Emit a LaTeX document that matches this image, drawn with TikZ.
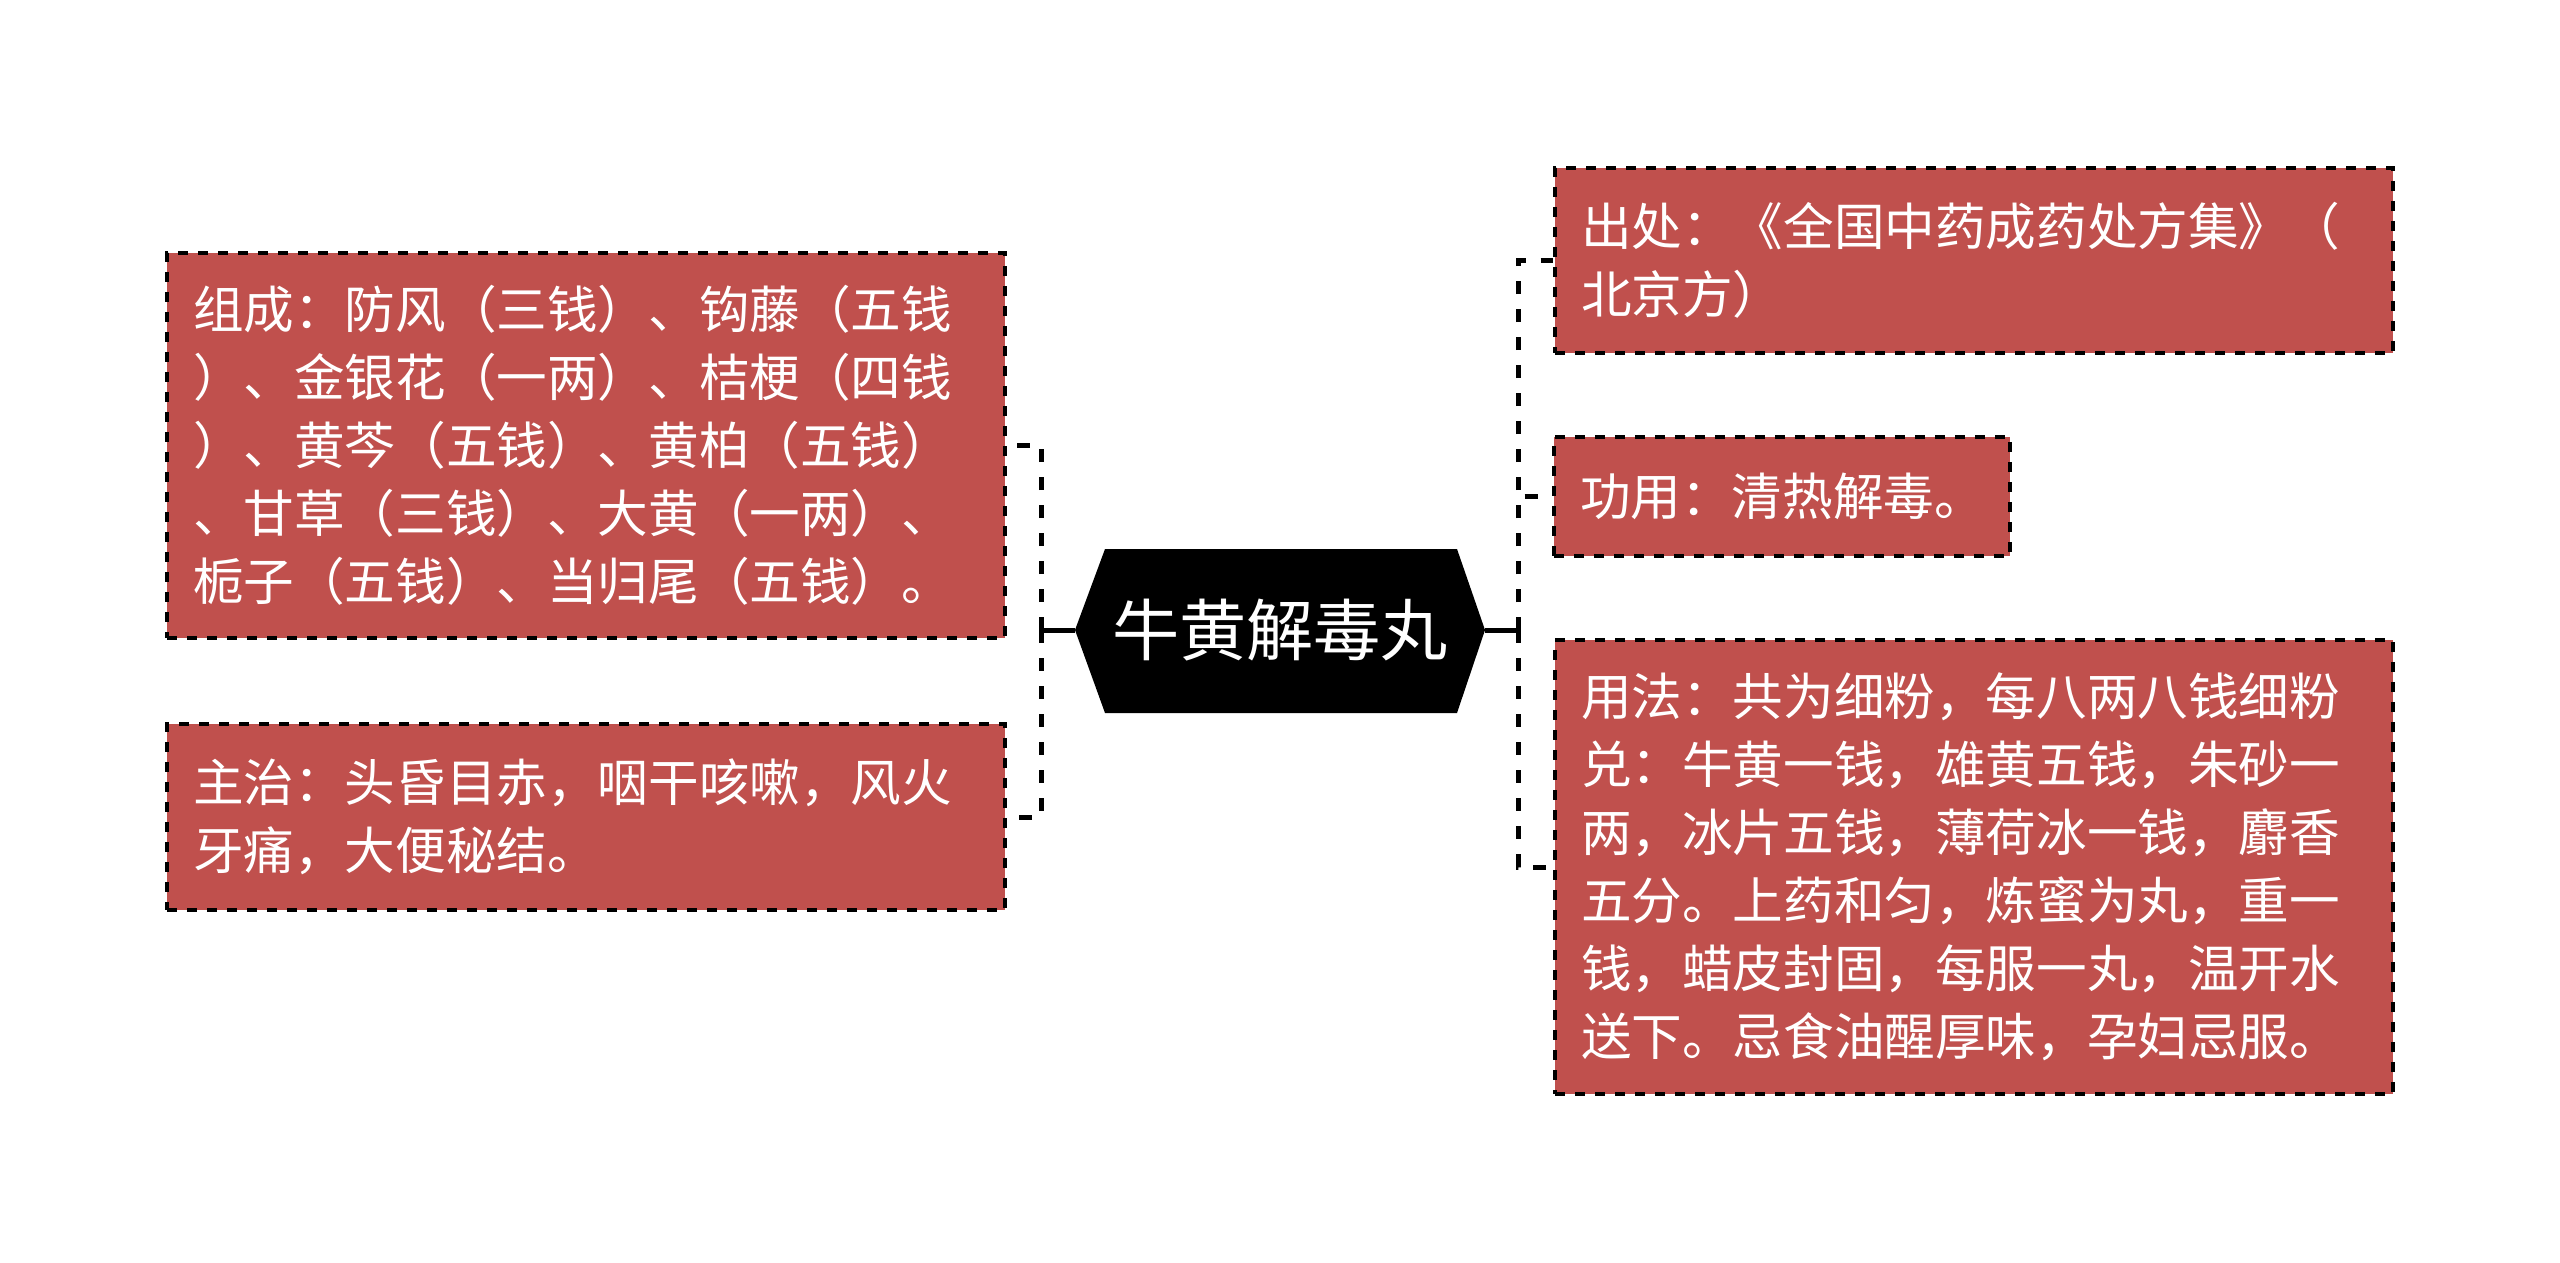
\documentclass[tikz,border=0pt]{standalone}
\usepackage{fontspec}
\setmainfont{Noto Sans CJK SC}
\definecolor{boxred}{HTML}{C0504D}
\tikzset{
  leaf/.style={draw=black, fill=boxred, line width=2pt, dash pattern=on 5pt off 5pt,
    text=white, font=\fontsize{25.3pt}{34pt}\selectfont, align=left,
    inner xsep=13pt, inner ysep=0pt, anchor=center},
  bracket/.style={draw=black, line width=2.5pt, dash pattern=on 6.5pt off 7.5pt},
  stem/.style={draw=black, line width=2.5pt},
  hub/.style={text=white, font=\fontsize{33.6pt}{40pt}\selectfont, inner sep=0pt}
}
\begin{document}
\begin{tikzpicture}[x=0.5pt,y=-0.5pt]
\fill[white] (0,0) rectangle (2560,1263);
\useasboundingbox (0,0) rectangle (2560,1263);
% central hexagon
\fill[black] (1075,630) -- (1105,549) -- (1457,549) -- (1485,630) -- (1457,713) -- (1105,713) -- cycle;
\coordinate (hubL) at (1075,630);
\coordinate (hubR) at (1485,630);
\node[hub] (hub) at (1280,630) {牛黄解毒丸};
% left leaves
\node[leaf, text width=393pt, minimum height=192.5pt] (L1) at (586,445.5)
 {组成：防风（三钱）、钩藤（五钱\\）、金银花（一两）、桔梗（四钱\\）、黄芩（五钱）、黄柏（五钱）\\、甘草（三钱）、大黄（一两）、\\栀子（五钱）、当归尾（五钱）。};
\node[leaf, text width=393pt, minimum height=93pt] (L2) at (586,817)
 {主治：头昏目赤，咽干咳嗽，风火\\牙痛，大便秘结。};
% right leaves
\node[leaf, text width=393pt, minimum height=92.5pt] (R1) at (1974,260.5)
 {出处：《全国中药成药处方集》（\\北京方）};
\node[leaf, text width=202pt, minimum height=59.5pt] (R2) at (1782,496.5)
 {功用：清热解毒。};
\node[leaf, text width=393pt, minimum height=227pt] (R3) at (1974,867)
 {用法：共为细粉，每八两八钱细粉\\兑：牛黄一钱，雄黄五钱，朱砂一\\两，冰片五钱，薄荷冰一钱，麝香\\五分。上药和匀，炼蜜为丸，重一\\钱，蜡皮封固，每服一丸，温开水\\送下。忌食油醒厚味，孕妇忌服。};
% connectors
\coordinate (lb) at (1041,630);
\coordinate (rb) at (1518,630);
\draw[stem] (hubL) -- (lb);
\draw[stem] (hubR) -- (rb);
\draw[bracket] (lb) |- (L1.east);
\draw[bracket] (lb) |- (L2.east);
\draw[bracket] (rb) |- (R1.west);
\draw[bracket] (rb) |- (R2.west);
\draw[bracket] (rb) |- (R3.west);
\end{tikzpicture}
\end{document}
